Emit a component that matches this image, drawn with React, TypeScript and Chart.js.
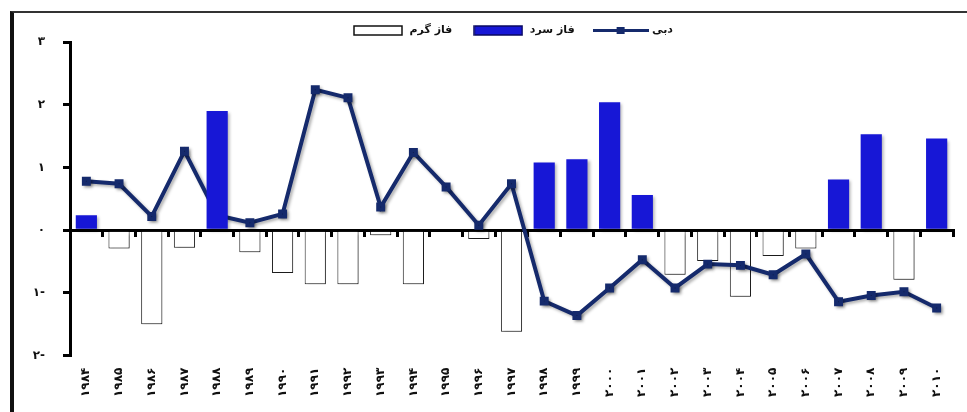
import React, { useEffect, useRef } from 'react';
import { Chart, registerables } from 'chart.js';

Chart.register(...registerables);

const years = ['۱۹۸۴', '۱۹۸۵', '۱۹۸۶', '۱۹۸۷', '۱۹۸۸', '۱۹۸۹', '۱۹۹۰', '۱۹۹۱', '۱۹۹۲', '۱۹۹۳', '۱۹۹۴', '۱۹۹۵', '۱۹۹۶', '۱۹۹۷', '۱۹۹۸', '۱۹۹۹', '۲۰۰۰', '۲۰۰۱', '۲۰۰۲', '۲۰۰۳', '۲۰۰۴', '۲۰۰۵', '۲۰۰۶', '۲۰۰۷', '۲۰۰۸', '۲۰۰۹', '۲۰۱۰'];

const discharge = [0.78, 0.74, 0.22, 1.26, 0.24, 0.12, 0.26, 2.24, 2.11, 0.37, 1.24, 0.69, 0.08, 0.74, -1.13, -1.36, -0.92, -0.47, -0.92, -0.54, -0.56, -0.71, -0.38, -1.14, -1.04, -0.98, -1.24];

const coldPhase = [0.24, null, null, null, 1.9, null, null, null, null, null, null, null, null, null, 1.08, 1.13, 2.04, 0.56, null, null, null, null, null, 0.81, 1.53, null, 1.46];

const warmPhase = [null, -0.29, -1.5, -0.28, null, -0.35, -0.68, -0.86, -0.86, -0.08, -0.86, null, -0.14, -1.62, null, null, null, null, -0.71, -0.49, -1.06, -0.41, -0.29, null, null, -0.79, null];

const yTickValues = [-2, -1, 0, 1, 2, 3];
const yTickLabels = ['۲-', '۱-', '۰', '۱', '۲', '۳'];

const seriesNames = ['فاز گرم', 'فاز سرد', 'دبی'];

const NAVY = '#152a6c';
const BLUE = '#1717d6';
const FONT = '"DejaVu Sans", sans-serif';

function makeSymbol(kind: string): HTMLCanvasElement {
  const c = document.createElement('canvas');
  if (kind === 'line') {
    c.width = 56; c.height = 9;
    const g = c.getContext('2d')!;
    g.strokeStyle = NAVY; g.lineWidth = 3;
    g.beginPath(); g.moveTo(0, 4.5); g.lineTo(56, 4.5); g.stroke();
    g.fillStyle = NAVY; g.fillRect(24, 1, 8, 7);
  } else {
    c.width = 50; c.height = 11;
    const g = c.getContext('2d')!;
    g.fillStyle = kind === 'warm' ? '#ffffff' : BLUE;
    g.fillRect(1, 1, 48, 9);
    g.strokeStyle = kind === 'warm' ? '#111111' : '#0a0a60';
    g.lineWidth = 1.5;
    g.strokeRect(1, 1, 48, 9);
  }
  return c;
}

const shadowPlugin = {
  id: 'shadow',
  beforeDatasetsDraw(chart: any) {
    const ctx = chart.ctx;
    ctx.save();
    ctx.shadowColor = 'rgba(0,0,0,0.3)';
    ctx.shadowOffsetX = 2;
    ctx.shadowOffsetY = 2;
    ctx.shadowBlur = 3;
  },
  afterDatasetsDraw(chart: any) {
    chart.ctx.restore();
  },
};

const legendShift = {
  id: 'legendShift',
  afterLayout(chart: any) {
    const lg = chart.legend;
    if (!lg) return;
    lg.top += 4; lg.bottom += 4;
    lg.left += 36; lg.right += 36;
  },
};

export default function App() {
  const ref = useRef<HTMLCanvasElement>(null);

  useEffect(() => {
    if (!ref.current) return;
    const symbols = [makeSymbol('warm'), makeSymbol('cold'), makeSymbol('line')];
    const chart = new Chart(ref.current, {
      type: 'bar',
      data: {
        labels: years,
        datasets: [
          {
            type: 'bar',
            label: seriesNames[0],
            data: warmPhase,
            backgroundColor: '#ffffff',
            borderColor: '#222222',
            borderWidth: 1,
            grouped: false,
            barPercentage: 0.9,
            categoryPercentage: 0.72,
            order: 2,
            xAxisID: 'x',
          } as any,
          {
            type: 'bar',
            label: seriesNames[1],
            data: coldPhase,
            backgroundColor: BLUE,
            borderColor: BLUE,
            borderWidth: 0,
            grouped: false,
            barPercentage: 0.9,
            categoryPercentage: 0.72,
            order: 0,
            xAxisID: 'x',
          } as any,
          {
            type: 'line',
            label: seriesNames[2],
            data: discharge,
            borderColor: NAVY,
            backgroundColor: NAVY,
            borderWidth: 4,
            pointStyle: 'rect',
            pointRadius: 3.5,
            pointBackgroundColor: NAVY,
            pointBorderColor: NAVY,
            tension: 0,
            order: 1,
            xAxisID: 'x',
          } as any,
        ],
      },
      options: {
        animation: false,
        responsive: false,
        layout: { padding: { top: 1, right: 14, bottom: 3, left: 0 } },
        plugins: {
          tooltip: { enabled: false },
          legend: {
            display: true,
            position: 'top',
            labels: {
              font: { family: FONT, size: 11, weight: 'bold' },
              color: '#111',
              padding: 20,
              usePointStyle: true,
              pointStyleWidth: 52,
              sort: (a: any, b: any) => a.datasetIndex - b.datasetIndex,
              generateLabels: (ch: any) => {
                const items = Chart.defaults.plugins.legend.labels.generateLabels(ch);
                return items.map((it: any) => ({ ...it, pointStyle: symbols[it.datasetIndex] }));
              },
            },
          },
        },
        scales: {
          x: {
            type: 'category',
            position: { y: 0 } as any,
            offset: true,
            grid: {
              offset: true,
              drawOnChartArea: false,
              drawTicks: true,
              tickLength: 5,
              color: '#000',
              lineWidth: 3,
            },
            border: { display: true, color: '#000', width: 3 },
            ticks: { display: false },
          },
          x2: {
            type: 'category',
            position: 'bottom',
            labels: years,
            offset: true,
            grid: { display: false, drawTicks: false },
            border: { display: false },
            ticks: {
              minRotation: 90,
              maxRotation: 90,
              autoSkip: false,
              padding: 12,
              color: '#111',
              font: { family: FONT, size: 12, weight: 'bold' },
            },
          },
          y: {
            type: 'linear',
            min: -2,
            max: 3,
            afterFit: (s: any) => { s.width = 70; },
            afterBuildTicks: (s: any) => { s.ticks = yTickValues.map((v) => ({ value: v })); },
            grid: {
              drawOnChartArea: false,
              drawTicks: true,
              tickLength: 7,
              color: '#000',
              lineWidth: 3,
            },
            border: { display: true, color: '#000', width: 3 },
            ticks: {
              padding: 18,
              color: '#111',
              font: { family: FONT, size: 12, weight: 'bold' },
              callback: (v: any) => {
                const i = yTickValues.indexOf(Number(v));
                return i >= 0 ? yTickLabels[i] : '';
              },
            },
          },
        },
      },
      plugins: [shadowPlugin, legendShift],
    } as any);
    return () => chart.destroy();
  }, []);

  return (
    <div style={{ position: 'fixed', left: 0, top: 0, width: 967, height: 412, background: '#fff', overflow: 'hidden' }}>
      <div style={{ position: 'absolute', left: 10, top: 11, width: 970, height: 420, borderLeft: '4px solid #111', borderTop: '2px solid #333' }} />
      <canvas ref={ref} width={967} height={412} style={{ position: 'absolute', left: 0, top: 0, width: 967, height: 412 }} />
    </div>
  );
}
